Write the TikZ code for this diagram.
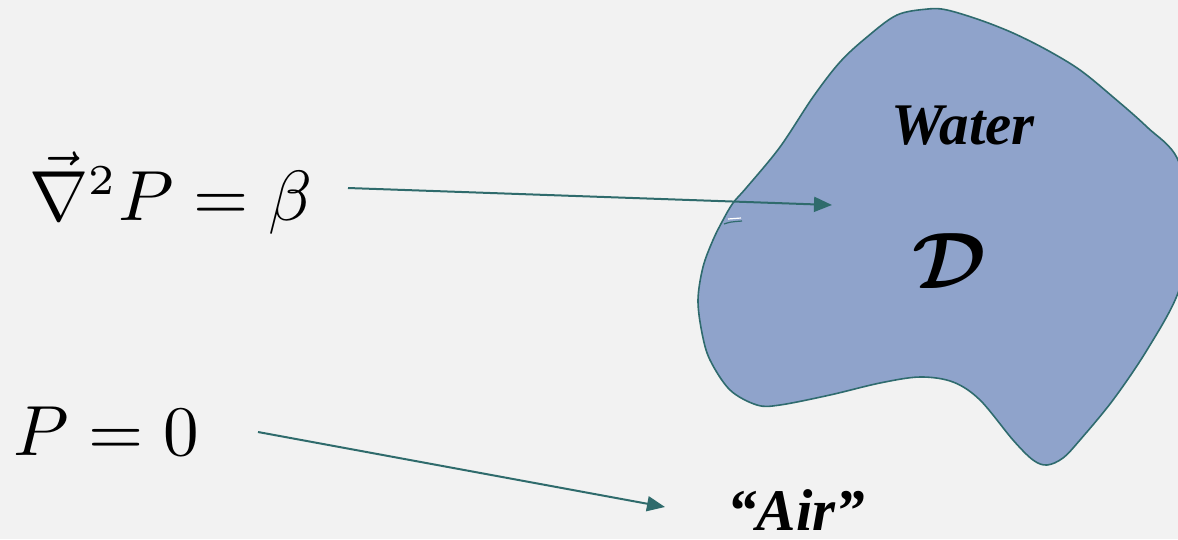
\documentclass[tikz,border=0pt]{standalone}
\usepackage{amsmath}
\usepackage{fontspec}
\newfontfamily\txtfont{Liberation Serif}
\usetikzlibrary{arrows.meta}
\definecolor{bg}{RGB}{242,242,242}
\definecolor{blobfill}{RGB}{143,163,203}
\definecolor{blobline}{RGB}{47,107,110}
\definecolor{arrowc}{RGB}{47,107,108}
\tikzset{
  conn/.style={draw=arrowc, line width=2pt, -{Triangle[length=18pt,width=15pt]}},
  mathlbl/.style={inner sep=0pt, scale=7.1},
  bilbl/.style={inner sep=0pt, font=\txtfont\bfseries\itshape\fontsize{59}{62}\selectfont},
}
\begin{document}
\begin{tikzpicture}[x=1pt,y=-1pt]
\fill[bg] (0,0) rectangle (1178,539);
\useasboundingbox (0,0) rectangle (1178,539);
\begin{scope}
\clip (0,0) rectangle (1178,539);
\draw[blobline, line width=1.6pt, fill=blobfill] plot[smooth cycle, tension=0.55] coordinates {
 (928,9) (897,15) (867,37) (840,62) (813,97) (780,147) (747,187) (733,203)
 (723,220) (713,240) (703,267) (698,300) (702,333) (710,360) (730,390)
 (757,405) (780,405) (830,395) (880,383) (920,377) (953,382) (980,400)
 (1013,440) (1033,460) (1047,465) (1063,458) (1080,440) (1113,400)
 (1147,350) (1178,293) (1192,230) (1178,160) (1147,127) (1113,97)
 (1080,70) (1047,50) (1013,33) (980,20) (947,10)};
\end{scope}
\draw[white, line width=1.2pt] (728,219) -- (741,218);
\draw[blobline, line width=1.2pt] (724,224) .. controls (730,222) .. (742,221);
\node[mathlbl, anchor=base west] (lap) at (28,220) {$\vec{\nabla}^{\text{\fontsize{6}{6}\selectfont 2}} P = \beta$};
\node[mathlbl, anchor=base west] (p0) at (12,455) {$P = 0$};
\node[bilbl] (water) at (963,126) {Water};
\node[inner sep=0pt, scale=8] (dom) at (949,261) {$\boldsymbol{\mathcal{D}}$};
\node[bilbl, anchor=base] (air) at (796,530) {“Air”};
\coordinate (s1) at (348,188);
\coordinate (e1) at (832,205);
\coordinate (s2) at (258,432);
\coordinate (e2) at (665,507);
\draw[conn] (s1) -- (e1);
\draw[conn] (s2) -- (e2);
\end{tikzpicture}
\end{document}
